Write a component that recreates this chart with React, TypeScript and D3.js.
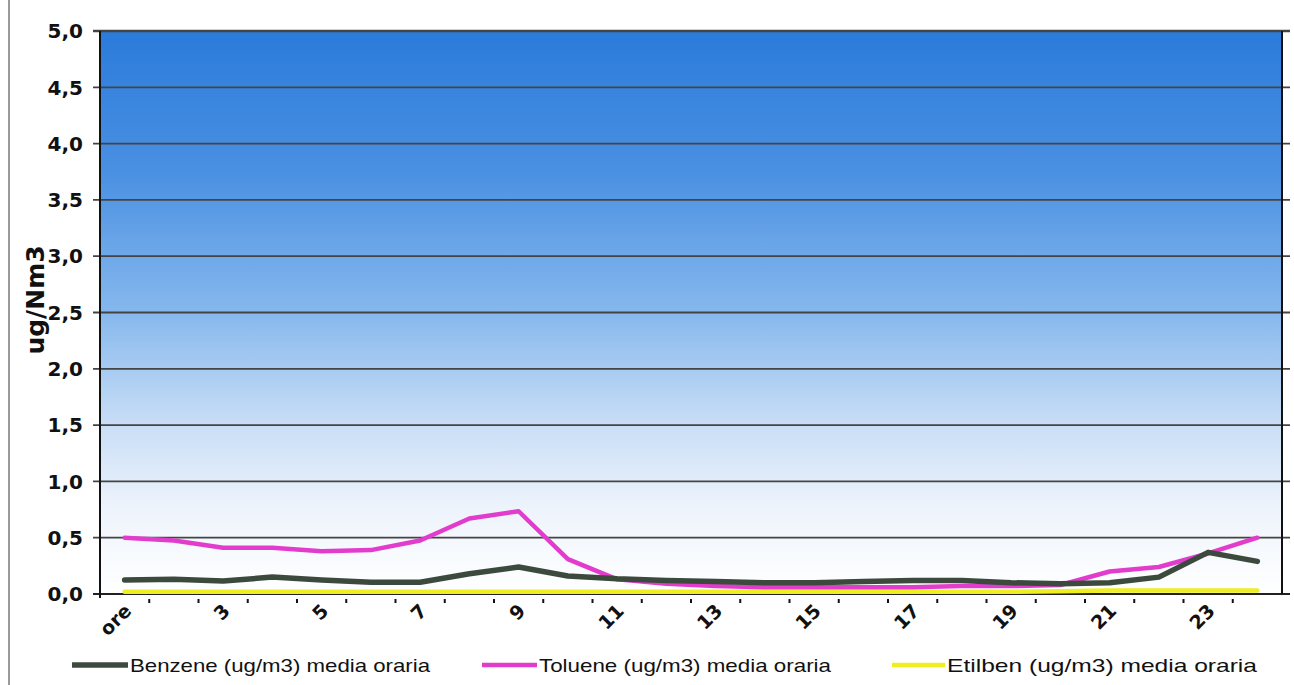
import React from "react";
import * as d3 from "d3";

const categories: string[] = ["ore", "2", "3", "4", "5", "6", "7", "8", "9", "10", "11", "12", "13", "14", "15", "16", "17", "18", "19", "20", "21", "22", "23", "24"];
const benzene: number[] = [0.125, 0.13, 0.115, 0.15, 0.125, 0.105, 0.105, 0.18, 0.24, 0.16, 0.135, 0.12, 0.11, 0.1, 0.1, 0.11, 0.12, 0.12, 0.1, 0.09, 0.1, 0.15, 0.37, 0.29];
const toluene: number[] = [0.5, 0.475, 0.41, 0.41, 0.38, 0.39, 0.475, 0.67, 0.735, 0.31, 0.13, 0.09, 0.07, 0.06, 0.06, 0.06, 0.06, 0.07, 0.07, 0.08, 0.2, 0.24, 0.36, 0.5];
const etilben: number[] = [0.02, 0.02, 0.02, 0.02, 0.02, 0.02, 0.02, 0.02, 0.02, 0.02, 0.02, 0.02, 0.02, 0.02, 0.02, 0.02, 0.02, 0.02, 0.02, 0.025, 0.03, 0.03, 0.03, 0.03];
const yTicks: number[] = [0, 0.5, 1, 1.5, 2, 2.5, 3, 3.5, 4, 4.5, 5];
const seriesNames: string[] = ["Benzene (ug/m3) media oraria", "Toluene (ug/m3) media oraria", "Etilben (ug/m3) media oraria"];
const yTitle = "ug/Nm3";

const W = 1294;
const H = 685;
const L = 100, R = 1282, T = 31, B = 594;
const FONT = "'Liberation Sans', Arial, sans-serif";
const BOLD = "'DejaVu Sans', sans-serif";

export default function App() {
  const x = d3.scaleBand<string>().domain(categories).range([L, R]).paddingInner(0).paddingOuter(0);
  const y = d3.scaleLinear().domain([0, 5]).range([B, T]);
  const cx = (i: number) => (x(categories[i]) as number) + x.bandwidth() / 2;
  const line = d3.line<number>().x((_, i) => cx(i)).y((v) => y(v));
  const series = [
    { name: seriesNames[0], values: benzene, color: "#3c4a3e", width: 5.5 },
    { name: seriesNames[1], values: toluene, color: "#e23ccd", width: 4.5 },
    { name: seriesNames[2], values: etilben, color: "#eeee22", width: 4.5 },
  ];
  const fmt = (v: number) => v.toFixed(1).replace(".", ",");
  const legendX = [72, 482, 892];
  const legendLine = [56, 55, 53];
  const legendTextW = [300, 292, 310];

  return (
    <svg width={W} height={H} style={{ position: "absolute", left: 0, top: 0, background: "#fff" }}>
      <defs>
        <linearGradient id="bg" x1="0" y1="0" x2="0" y2="1">
          <stop offset="0" stopColor="#2b7bdb" />
          <stop offset="0.25" stopColor="#4a90e2" />
          <stop offset="0.5" stopColor="#86b8ed" />
          <stop offset="0.7" stopColor="#c9def6" />
          <stop offset="0.85" stopColor="#eef4fc" />
          <stop offset="1" stopColor="#ffffff" />
        </linearGradient>
      </defs>
      <line x1={9} x2={9} y1={0} y2={H} stroke="#9a9a9a" strokeWidth={2} />
      <rect x={L} y={T} width={R - L} height={B - T} fill="url(#bg)" />
      {yTicks.map((t) => (
        <g key={t}>
          <line x1={L - 7} x2={R + 8} y1={y(t)} y2={y(t)} stroke={t === 0 ? "#222" : "#444"} strokeWidth={t === 5 ? 2.5 : 1.8} />
          <text x={83} y={y(t)} dy="0.36em" textAnchor="end" fontFamily={BOLD} fontWeight="bold" fontSize={20} fill="#111">{fmt(t)}</text>
        </g>
      ))}
      <line x1={L} x2={L} y1={T} y2={B + 4} stroke="#111" strokeWidth={2} />
      <line x1={R} x2={R} y1={T} y2={B} stroke="#111" strokeWidth={2} />
      {categories.slice(1).map((c) => {
        const xx = (x(c) as number);
        return <line key={c} x1={xx} x2={xx} y1={B + 5} y2={B + 9} stroke="#111" strokeWidth={2} />;
      })}
      {categories.map((c, i) =>
        i % 2 === 0 ? (
          <text key={c} transform={`translate(${cx(i) - 2},${B + 8}) rotate(-45)`} textAnchor="end" dy="0.75em" fontFamily={BOLD} fontWeight="bold" fontSize={19} fill="#111">{c}</text>
        ) : null
      )}
      <text transform={`translate(44,300) rotate(-90)`} textAnchor="middle" fontFamily={BOLD} fontWeight="bold" fontSize={25} fill="#111">{yTitle}</text>
      {series.slice().reverse().map((s) => (
        <path key={s.name} d={line(s.values) as string} fill="none" stroke={s.color} strokeWidth={s.width} strokeLinejoin="round" strokeLinecap="round" />
      ))}
      {series.map((s, i) => (
        <g key={s.name}>
          <line x1={legendX[i]} x2={legendX[i] + legendLine[i]} y1={665} y2={665} stroke={s.color} strokeWidth={s.width} />
          <text x={legendX[i] + legendLine[i] + 2} y={672} textLength={legendTextW[i]} lengthAdjust="spacingAndGlyphs" fontFamily={FONT} fontSize={19} fill="#111">{s.name}</text>
        </g>
      ))}
    </svg>
  );
}
